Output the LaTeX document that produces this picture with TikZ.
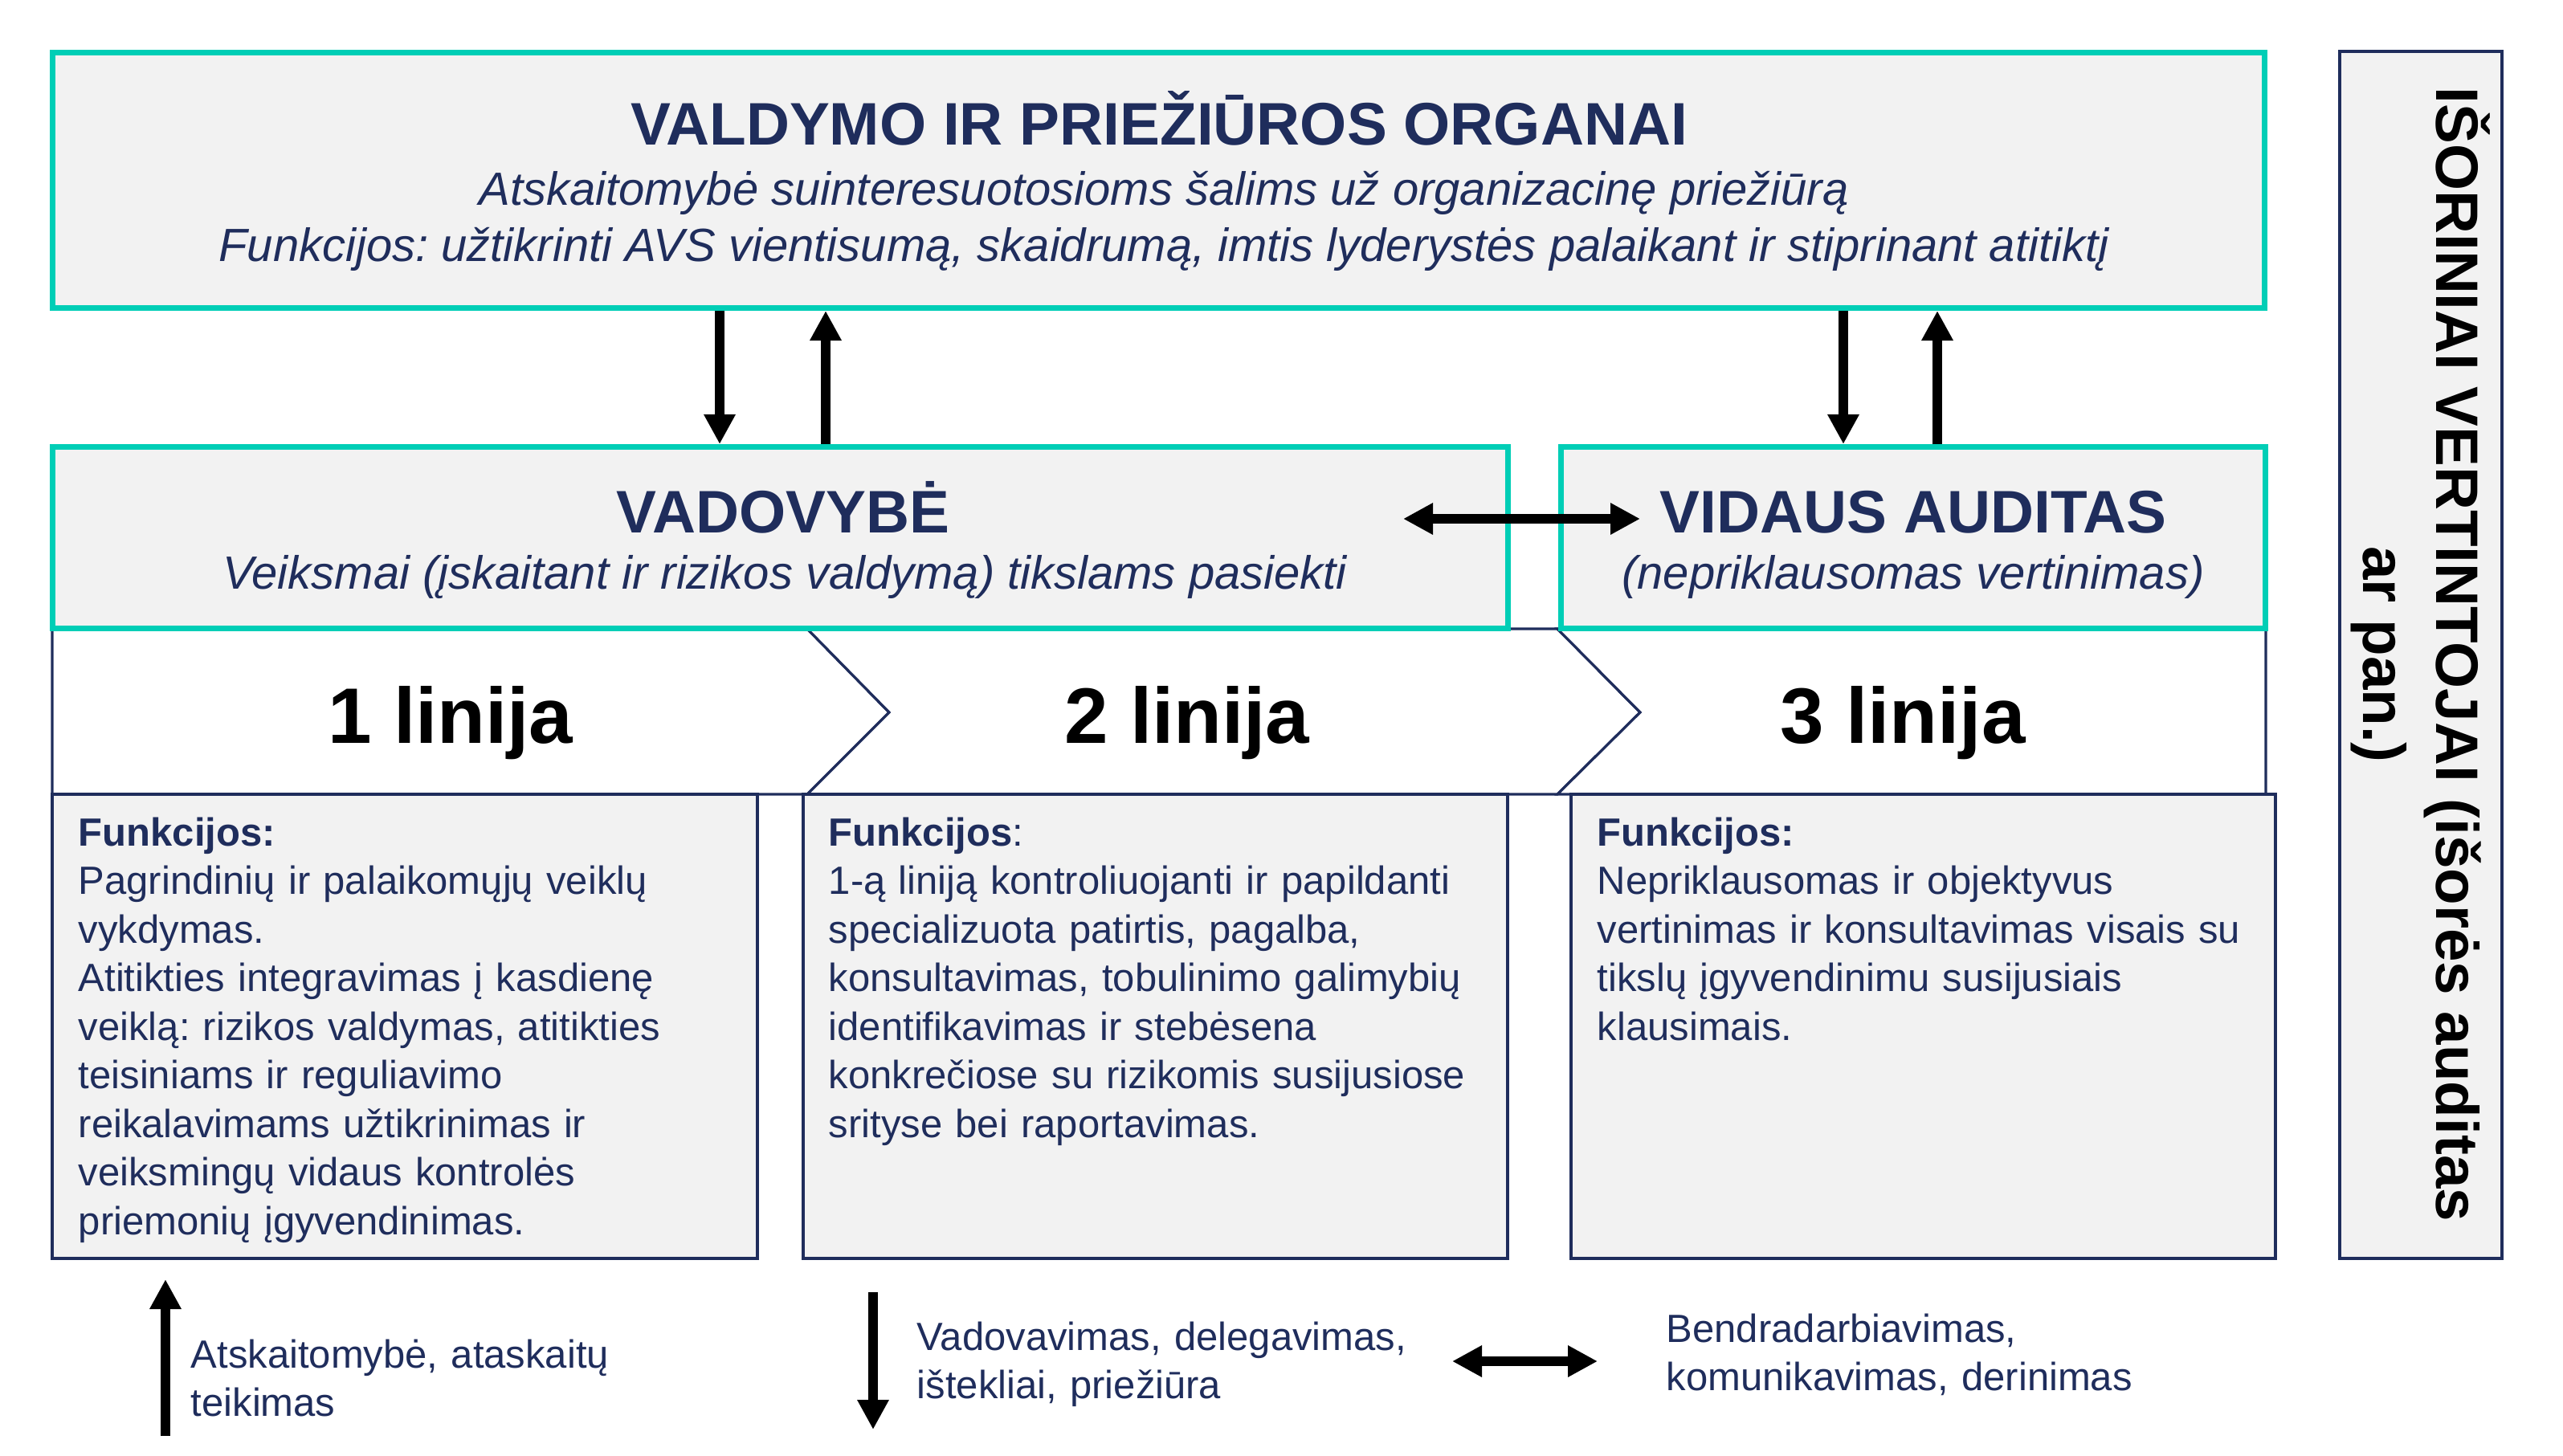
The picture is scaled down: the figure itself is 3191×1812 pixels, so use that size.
\documentclass[tikz,border=0pt]{standalone}
\usepackage{fontspec}
\setmainfont{Liberation Sans}
\usetikzlibrary{arrows.meta}
\definecolor{navy}{RGB}{31,45,92}
\definecolor{tealc}{RGB}{0,206,182}
\definecolor{boxgrey}{RGB}{242,242,242}
\frenchspacing
\begin{document}
\begin{tikzpicture}[x=0.25pt,y=-0.25pt,
 tealbox/.style={draw=tealc,line width=1.75pt,fill=boxgrey,inner sep=0,anchor=north west},
 funcbox/.style={draw=navy,line width=1pt,fill=boxgrey,inner sep=0,anchor=north west},
 chev/.style={draw=navy,line width=0.8pt,fill=white,line join=miter},
 arr/.style={line width=3pt,-{Triangle[length=9.25pt,width=9.25pt]}},
 darr/.style={line width=3pt,{Triangle[length=9.25pt,width=9.25pt]}-{Triangle[length=9.25pt,width=9.25pt]}},
 titletxt/.style={font=\bfseries\fontsize{18.7}{22}\selectfont,text=navy,inner sep=0,anchor=base},
 ittxt/.style={font=\itshape\fontsize{14.5}{17}\selectfont,text=navy,inner sep=0,anchor=base},
 linetxt/.style={font=\bfseries\fontsize{24.5}{29}\selectfont,text=black,inner sep=0,anchor=base},
 bodytxt/.style={font=\fontsize{12.25}{15.125}\selectfont,text=navy,inner sep=0,anchor=base west,align=left,text width=280pt},
]
\useasboundingbox (0,0) rectangle (3191,1812);

% chevrons
\path[chev] (65,783) -- (1005,783) -- (1107,887) -- (1005,989) -- (65,989) -- cycle;
\path[chev] (1005,783) -- (1939,783) -- (2042,887) -- (1939,989) -- (1005,989) -- (1107,887) -- cycle;
\path[chev] (1939,783) -- (2821,783) -- (2821,989) -- (1939,989) -- (2042,887) -- cycle;

% function boxes
\node[funcbox,minimum width=219.5pt,minimum height=144.5pt] (f1) at (63,987) {};
\node[funcbox,minimum width=219.25pt,minimum height=144.5pt] (f2) at (998,987) {};
\node[funcbox,minimum width=219.25pt,minimum height=144.5pt] (f3) at (1954,987) {};

% right vertical box
\node[funcbox,minimum width=50.5pt,minimum height=375.75pt] (ext) at (2911,62) {};

% teal boxes
\node[tealbox,minimum width=688.5pt,minimum height=79.5pt] (top) at (62,62) {};
\node[tealbox,minimum width=453.1pt,minimum height=56.5pt] (vad) at (62,553) {};
\node[tealbox,minimum width=219.25pt,minimum height=56.5pt] (aud) at (1939.5,553) {};

% texts in teal boxes
\node[titletxt] (ttl) at (1443,180) {VALDYMO IR PRIEŽIŪROS ORGANAI};
\node[ittxt] (tt1) at (1449,255) {Atskaitomybė suinteresuotosioms šalims už organizacinę priežiūrą};
\node[ittxt] (tt2) at (1449,325) {Funkcijos: užtikrinti AVS vientisumą, skaidrumą, imtis lyderystės palaikant ir stiprinant atitiktį};
\node[titletxt] (vt) at (975,663) {VADOVYBĖ};
\node[ittxt] (vt2) at (977,733) {Veiksmai (įskaitant ir rizikos valdymą) tikslams pasiekti};
\node[titletxt] (at) at (2382,663) {VIDAUS AUDITAS};
\node[ittxt] (at2) at (2382,733) {(nepriklausomas vertinimas)};

% line labels
\node[linetxt] (l1) at (561,925) {1 linija};
\node[linetxt] (l2) at (1478,925) {2 linija};
\node[linetxt] (l3) at (2369,925) {3 linija};

% function texts
\node[bodytxt] (b1) at (97,1053) {\textbf{Funkcijos:}\\
Pagrindinių ir palaikomųjų veiklų\\
vykdymas.\\
Atitikties integravimas į kasdienę\\
veiklą: rizikos valdymas, atitikties\\
teisiniams ir reguliavimo\\
reikalavimams užtikrinimas ir\\
veiksmingų vidaus kontrolės\\
priemonių įgyvendinimas.};
\node[bodytxt] (b2) at (1031,1053) {\textbf{Funkcijos}:\\
1-ą liniją kontroliuojanti ir papildanti\\
specializuota patirtis, pagalba,\\
konsultavimas, tobulinimo galimybių\\
identifikavimas ir stebėsena\\
konkrečiose su rizikomis susijusiose\\
srityse bei raportavimas.};
\node[bodytxt] (b3) at (1988,1053) {\textbf{Funkcijos:}\\
Nepriklausomas ir objektyvus\\
vertinimas ir konsultavimas visais su\\
tikslų įgyvendinimu susijusiais\\
klausimais.};

% external text
\node[font=\bfseries\fontsize{18.65}{22.75}\selectfont,rotate=-90,align=center,inner sep=0] (extt) at (3014,815) {IŠORINIAI VERTINTOJAI (išorės auditas\\ar pan.)};

% connectors
\coordinate (c1) at (896,0);
\coordinate (c2) at (1028,0);
\coordinate (c3) at (2295,0);
\coordinate (c4) at (2412,0);
\draw[arr] (top.south -| c1) -- (vad.north -| c1);
\draw[arr] (vad.north -| c2) -- (top.south -| c2);
\draw[arr] (top.south -| c3) -- (aud.north -| c3);
\draw[arr] (aud.north -| c4) -- (top.south -| c4);
\coordinate (dl) at (1747,646);
\coordinate (dr) at (2042,646);
\draw[darr] (dl) -- (dr);

% legend
\coordinate (ua) at (206,1788);
\coordinate (ub) at (206,1593);
\draw[arr] (ua) -- (ub);
\node[bodytxt] (lg1) at (237,1703) {Atskaitomybė, ataskaitų\\teikimas};
\coordinate (da) at (1087,1609);
\coordinate (db) at (1087,1780);
\draw[arr] (da) -- (db);
\node[bodytxt] (lg2) at (1141,1681) {Vadovavimas, delegavimas,\\ištekliai, priežiūra};
\coordinate (ba) at (1808,1695);
\coordinate (bb) at (1989,1695);
\draw[darr] (ba) -- (bb);
\node[bodytxt] (lg3) at (2074,1671) {Bendradarbiavimas,\\komunikavimas, derinimas};
\end{tikzpicture}
\end{document}
